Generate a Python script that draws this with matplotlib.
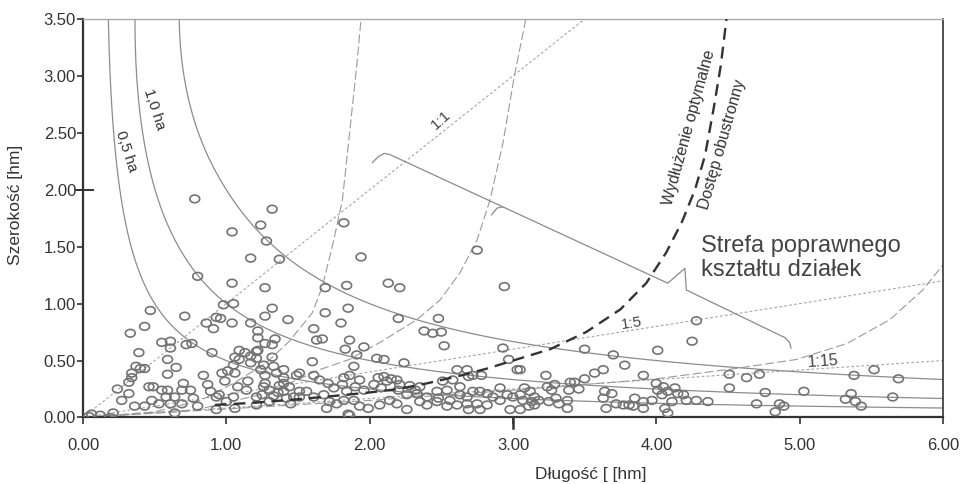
import numpy as np
import matplotlib.pyplot as plt
from matplotlib.path import Path

plt.rcParams['font.family'] = ['Liberation Sans', 'DejaVu Sans']

# plots: length [hm], width [hm]
plot_x = [0.78, 1.32, 1.24, 1.04, 1.28, 1.82, 1.17, 1.37, 1.94, 0.80, 1.04, 1.27, 1.69, 1.84,
          2.13, 2.21, 0.47, 0.71, 0.98, 1.05, 1.32, 1.27, 0.93, 0.96, 0.86, 1.04, 1.17, 1.43,
          1.69, 1.85, 1.80, 2.20, 0.43, 2.75, 2.94, 2.48, 4.28, 0.91, 0.33, 0.39, 0.55, 0.61,
          0.61, 0.72, 0.76, 0.90, 1.06, 1.13, 1.22, 1.22, 1.27, 1.34, 1.32, 1.22, 1.17, 1.32,
          1.61, 1.63, 1.67, 1.86, 1.83, 1.96, 1.91, 1.60, 2.05, 2.10, 1.89, 0.34, 0.37, 0.40,
          0.43, 0.59, 0.59, 0.65, 0.34, 0.32, 0.24, 0.32, 0.27, 0.36, 0.43, 0.46, 0.49, 0.48,
          0.53, 0.55, 0.58, 0.61, 0.64, 0.64, 0.69, 0.69, 0.75, 0.77, 0.80, 0.84, 0.87, 0.89,
          0.93, 0.97, 0.99, 1.01, 1.05, 1.06, 1.05, 1.06, 1.08, 1.15, 1.14, 1.21, 0.93, 0.04,
          0.06, 0.12, 0.19, 0.21, 1.09, 1.21, 0.70, 0.59, 0.95, 1.00, 1.09, 1.17, 1.21, 1.24,
          1.26, 1.27, 1.33, 1.35, 1.40, 1.40, 1.21, 1.26, 1.30, 1.27, 1.40, 1.44, 1.42, 1.47,
          1.51, 1.40, 1.49, 1.25, 1.33, 1.37, 1.45, 1.30, 1.36, 2.38, 2.44, 2.50, 2.52, 2.24,
          2.93, 2.97, 3.03, 1.51, 1.61, 1.65, 1.71, 1.75, 1.82, 1.86, 1.81, 1.93, 1.90, 1.84,
          1.96, 2.03, 2.06, 2.10, 2.12, 2.08, 2.15, 2.19, 2.21, 2.20, 2.28, 2.35, 2.32, 2.26,
          2.33, 2.40, 2.47, 2.51, 2.58, 2.61, 2.68, 2.69, 2.72, 2.78, 2.63, 2.54, 2.48, 2.56,
          2.63, 2.68, 2.72, 2.77, 2.82, 2.86, 2.91, 2.96, 3.00, 2.61, 2.68, 2.75, 2.82, 2.91,
          2.98, 1.51, 1.56, 1.61, 1.68, 1.72, 1.77, 1.70, 1.82, 1.89, 1.93, 1.99, 2.07, 2.14,
          2.19, 2.26, 2.35, 2.40, 2.47, 2.54, 2.69, 2.77, 1.85, 1.86, 4.25, 3.50, 3.70, 4.01,
          3.78, 3.05, 3.23, 3.57, 3.63, 3.50, 3.91, 3.40, 3.43, 3.29, 3.24, 3.46, 3.39, 3.27,
          4.00, 4.01, 4.05, 4.04, 4.08, 4.13, 4.15, 4.19, 3.64, 3.69, 3.63, 3.08, 3.12, 3.05,
          3.15, 3.07, 3.13, 3.18, 3.11, 3.05, 3.15, 3.25, 3.30, 3.32, 3.38, 3.38, 3.65, 3.72,
          3.77, 3.81, 3.85, 3.84, 3.91, 3.91, 3.97, 4.06, 4.08, 4.11, 4.21, 4.28, 4.36, 4.51,
          4.51, 4.63, 4.72, 4.76, 5.03, 4.70, 4.86, 4.89, 4.83, 5.38, 5.52, 5.69, 5.36, 5.32,
          5.39, 5.43, 5.65]
plot_y = [1.92, 1.83, 1.69, 1.63, 1.55, 1.71, 1.40, 1.39, 1.41, 1.24, 1.18, 1.14, 1.14, 1.16,
          1.18, 1.14, 0.94, 0.89, 0.99, 1.00, 0.96, 0.89, 0.88, 0.87, 0.83, 0.83, 0.83, 0.86,
          0.92, 0.96, 0.83, 0.87, 0.80, 1.47, 1.15, 0.87, 0.85, 0.78, 0.74, 0.57, 0.66, 0.67,
          0.61, 0.64, 0.65, 0.57, 0.53, 0.57, 0.76, 0.70, 0.65, 0.69, 0.64, 0.59, 0.54, 0.53,
          0.78, 0.68, 0.69, 0.68, 0.60, 0.62, 0.55, 0.49, 0.52, 0.51, 0.45, 0.39, 0.45, 0.43,
          0.43, 0.51, 0.38, 0.44, 0.35, 0.31, 0.25, 0.21, 0.15, 0.10, 0.10, 0.27, 0.27, 0.15,
          0.12, 0.24, 0.18, 0.12, 0.18, 0.04, 0.24, 0.12, 0.24, 0.17, 0.10, 0.37, 0.29, 0.23,
          0.18, 0.39, 0.32, 0.41, 0.46, 0.39, 0.18, 0.08, 0.27, 0.32, 0.24, 0.11, 0.07, 0.01,
          0.03, 0.02, 0.00, 0.04, 0.59, 0.58, 0.30, 0.24, 0.20, 0.14, 0.51, 0.48, 0.52, 0.42,
          0.46, 0.37, 0.45, 0.39, 0.42, 0.30, 0.18, 0.27, 0.24, 0.30, 0.23, 0.27, 0.17, 0.18,
          0.23, 0.35, 0.37, 0.20, 0.19, 0.28, 0.12, 0.14, 0.22, 0.76, 0.74, 0.75, 0.63, 0.48,
          0.61, 0.51, 0.42, 0.39, 0.37, 0.33, 0.30, 0.26, 0.35, 0.37, 0.29, 0.33, 0.27, 0.23,
          0.24, 0.29, 0.35, 0.36, 0.32, 0.26, 0.34, 0.33, 0.29, 0.24, 0.28, 0.27, 0.24, 0.20,
          0.21, 0.18, 0.23, 0.32, 0.33, 0.42, 0.42, 0.36, 0.37, 0.37, 0.27, 0.24, 0.17, 0.15,
          0.20, 0.18, 0.23, 0.23, 0.21, 0.18, 0.26, 0.20, 0.18, 0.11, 0.12, 0.12, 0.11, 0.15,
          0.07, 0.18, 0.23, 0.18, 0.20, 0.14, 0.12, 0.08, 0.15, 0.15, 0.10, 0.08, 0.11, 0.15,
          0.12, 0.07, 0.14, 0.11, 0.14, 0.10, 0.07, 0.07, 0.03, 0.02, 0.67, 0.60, 0.55, 0.59,
          0.46, 0.42, 0.37, 0.39, 0.42, 0.34, 0.37, 0.31, 0.31, 0.29, 0.27, 0.25, 0.24, 0.24,
          0.30, 0.24, 0.27, 0.20, 0.23, 0.26, 0.21, 0.20, 0.23, 0.21, 0.17, 0.26, 0.23, 0.20,
          0.18, 0.15, 0.14, 0.15, 0.10, 0.07, 0.11, 0.14, 0.17, 0.12, 0.15, 0.08, 0.08, 0.12,
          0.11, 0.11, 0.17, 0.10, 0.14, 0.08, 0.15, 0.08, 0.04, 0.14, 0.15, 0.15, 0.14, 0.38,
          0.26, 0.35, 0.38, 0.22, 0.23, 0.12, 0.12, 0.10, 0.05, 0.37, 0.42, 0.34, 0.21, 0.16,
          0.14, 0.10, 0.18]

# area isolines [ha]; in the chart they bend steeper near the top edge
areas = [0.5, 1.0, 2.0]
iso_bend = [0.034, 0.077, 0.10]
iso_bend_from = [0.72, 1.65, 2.2]

# shape ratio lines
ratios = [1, 5, 12]
ratio_labels = ['1:1', '1:5', '1:15']

# guide curves
curve_a_x = [0.0, 0.5, 0.82, 1.05, 1.28, 1.44, 1.60, 1.67, 1.75, 1.81, 1.86, 1.91, 1.94]
curve_a_y = [0.0, 0.05, 0.15, 0.30, 0.48, 0.67, 0.92, 1.15, 1.56, 1.91, 2.50, 3.09, 3.50]
curve_b_x = [0.0, 0.8, 1.3, 1.65, 1.86, 2.10, 2.33, 2.49, 2.63, 2.75, 2.84, 2.93, 3.01, 3.09]
curve_b_y = [0.0, 0.07, 0.22, 0.42, 0.51, 0.68, 0.86, 1.03, 1.27, 1.56, 1.91, 2.41, 3.00, 3.50]
curve_c_x = [0.0, 2.0, 3.0, 4.0, 4.55, 4.98, 5.33, 5.63, 5.86, 6.0]
curve_c_y = [0.0, 0.15, 0.24, 0.34, 0.43, 0.51, 0.65, 0.86, 1.12, 1.34]
opt_x = [0.92, 1.2, 1.5, 1.84, 2.0, 2.2, 2.4, 2.64, 2.82, 3.0, 3.26, 3.51, 3.75, 3.93, 4.07,
         4.18, 4.27, 4.34, 4.40, 4.45, 4.49]
opt_y = [0.11, 0.13, 0.16, 0.20, 0.22, 0.25, 0.30, 0.37, 0.43, 0.50, 0.60, 0.75, 0.95, 1.18,
         1.45, 1.72, 2.00, 2.30, 2.71, 3.09, 3.50]

# brace pointing at the zone label
brace_x = [2.02, 2.06, 2.10, 2.14, 4.08, 4.20, 4.21, 4.90, 4.93, 4.94]
brace_y = [2.24, 2.29, 2.32, 2.31, 1.18, 1.31, 1.12, 0.70, 0.66, 0.61]
hook_x = [2.85, 2.89, 2.93]
hook_y = [1.78, 1.84, 1.85]

fig = plt.figure(figsize=(9.64, 4.84), dpi=100)
ax = fig.add_axes([0.0861, 0.1374, 0.892, 0.8233])

for a, d, y0 in zip(areas, iso_bend, iso_bend_from):
    ys = np.geomspace(3.5, a / 6, 400)
    bend = d * np.clip((ys - y0) / (3.5 - y0), 0, None) ** 2
    ax.plot(a / ys + bend, ys, color='#8c8c8c', lw=0.9, zorder=2)

for r in ratios:
    xs = np.array([0, 6])
    ax.plot(xs, xs / r, color='#a6a6a6', lw=0.8, ls=(0, (2.5, 2)), zorder=2)

for cx, cy in [(curve_a_x, curve_a_y), (curve_b_x, curve_b_y), (curve_c_x, curve_c_y)]:
    ax.plot(cx, cy, color='#9a9a9a', lw=0.8, ls=(0, (8, 3)), zorder=2)

ax.plot(opt_x, opt_y, color='#333333', lw=1.7, ls=(0, (5, 3)), zorder=4)
ax.plot(brace_x, brace_y, color='#8a8a8a', lw=0.9, zorder=2)
ax.plot(hook_x, hook_y, color='#8a8a8a', lw=0.9, zorder=2)

t = np.linspace(0, 2 * np.pi, 60)
ell = Path(np.column_stack([np.cos(t), 0.78 * np.sin(t)]))
ax.scatter(plot_x, plot_y, marker=ell, s=50, facecolors='none', edgecolors='#737373',
           linewidths=1.2, zorder=3)

ax.text(4.31, 1.40, 'Strefa poprawnego\nkształtu działek', fontsize=17, color='#444444',
        va='center', ha='left', linespacing=1.1)
ax.text(4.23, 2.55, 'Wydłużenie optymalne', fontsize=11.5, color='#333333', rotation=74.6,
        ha='center', va='center', rotation_mode='anchor')
ax.text(4.46, 2.40, 'Dostęp obustronny', fontsize=11.5, color='#333333', rotation=74,
        ha='center', va='center', rotation_mode='anchor')
ax.text(2.50, 2.61, ratio_labels[0], fontsize=11, color='#444444', rotation=42,
        ha='center', va='center', rotation_mode='anchor')
ax.text(3.83, 0.83, ratio_labels[1], fontsize=11, color='#444444', rotation=9,
        ha='center', va='center', rotation_mode='anchor')
ax.text(5.16, 0.49, ratio_labels[2], fontsize=11.5, color='#444444', rotation=4,
        ha='center', va='center', rotation_mode='anchor')
ax.text(0.30, 2.34, '0,5 ha', fontsize=11, color='#333333', rotation=-72,
        ha='center', va='center', rotation_mode='anchor')
ax.text(0.50, 2.71, '1,0 ha', fontsize=11, color='#333333', rotation=-72,
        ha='center', va='center', rotation_mode='anchor')

ax.set_xlim(0, 6)
ax.set_ylim(0, 3.5)
ax.set_xticks(np.arange(0, 6.01, 1))
ax.set_yticks(np.arange(0, 3.51, 0.5))
ax.xaxis.set_major_formatter(plt.FormatStrFormatter('%.2f'))
ax.yaxis.set_major_formatter(plt.FormatStrFormatter('%.2f'))
ax.tick_params(axis='x', direction='out', length=5, width=1.2, pad=10, labelsize=12,
               colors='#333333')
ax.tick_params(axis='y', direction='out', length=4, width=1.2, pad=1, labelsize=12,
               colors='#333333')

for side in ['left', 'bottom', 'right']:
    ax.spines[side].set_color('#333333')
    ax.spines[side].set_linewidth(1.6)
ax.spines['right'].set_linewidth(1.2)
ax.spines['top'].set_color('#aaaaaa')
ax.spines['top'].set_linewidth(1.0)

# odd longer tick marks of the original
ax.plot([3, 3], [0, -0.09], color='#333333', lw=1.8, clip_on=False, zorder=5)
ax.plot([-0.05, 0.07], [2, 2], color='#333333', lw=1.4, clip_on=False, zorder=5)

ax.set_xlabel('Długość [ [hm]', fontsize=12.5, color='#333333')
ax.set_ylabel('Szerokość [hm]', fontsize=12.5, color='#333333')
ax.xaxis.set_label_coords(0.59, -0.125)
ax.yaxis.set_label_coords(-0.07, 0.534)

fig.savefig('out.png', dpi=100)
